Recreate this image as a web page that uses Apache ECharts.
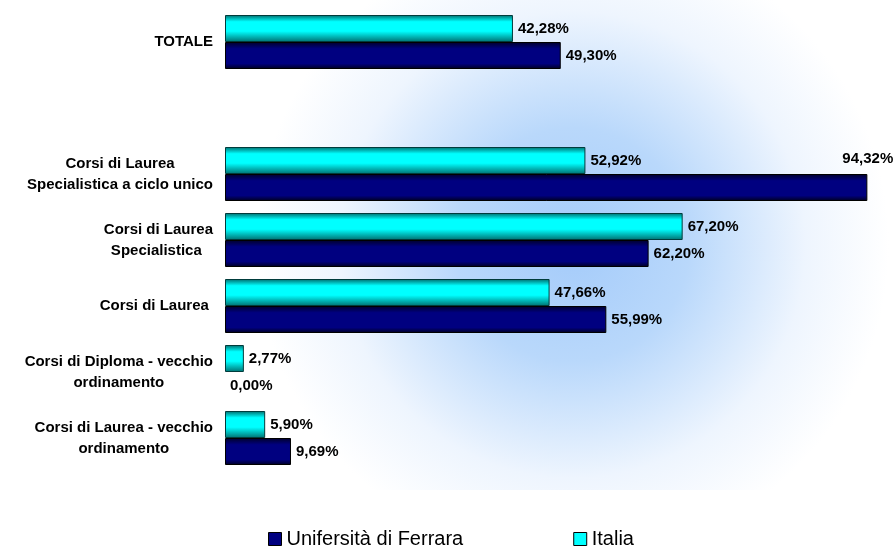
<!DOCTYPE html>
<html>
<head>
<meta charset="utf-8">
<script src="https://cdn.jsdelivr.net/npm/echarts@6/dist/echarts.min.js"></script>
<style>
  html, body { margin: 0; padding: 0; background: #fff; }
  #chart { width: 893px; height: 546px; }
</style>
</head>
<body>
<div id="chart"></div>
<script>
  // categorie (dal basso verso l'alto)
  var categories = [
    'Corsi di Laurea - vecchio\nordinamento',
    'Corsi di Diploma - vecchio\nordinamento',
    'Corsi di Laurea ',
    'Corsi di Laurea\nSpecialistica ',
    'Corsi di Laurea\nSpecialistica a ciclo unico',
    '',
    'TOTALE'
  ];
  var ferrara = [9.69, 0.00, 55.99, 62.20, 94.32, null, 49.30];
  var italia = [5.90, 2.77, 47.66, 67.20, 52.92, null, 42.28];
  var seriesNames = ['Unifersità di Ferrara', 'Italia'];

  var chart = echarts.init(document.getElementById('chart'));

  function fmt(p) {
    return p.value.toFixed(2).replace('.', ',') + '%';
  }

  var labelStyle = {
    show: true,
    position: 'right',
    distance: 5,
    formatter: fmt,
    color: '#000',
    fontFamily: 'Liberation Sans',
    fontWeight: 'bold',
    fontSize: 15
  };

  // la barra lunga (94,32%) ha l'etichetta sopra; le barre a zero senza bordo
  var ferraraData = ferrara.map(function (v) {
    if (v !== null && v > 90) {
      return { value: v, label: { offset: [-30, -29] } };
    }
    if (v === 0) {
      return { value: v, itemStyle: { borderWidth: 0 } };
    }
    return v;
  });

  var option = {
    animation: false,
    backgroundColor: '#fff',
    graphic: [{
      type: 'rect',
      silent: true,
      z: -10,
      shape: { x: 225, y: 0, width: 668, height: 490 },
      style: {
        fill: {
          type: 'radial', x: 0.52, y: 0.5, r: 0.68,
          colorStops: [
            { offset: 0, color: '#a4cbfa' },
            { offset: 0.35, color: '#b9d8fb' },
            { offset: 0.7, color: '#eef5fe' },
            { offset: 0.95, color: '#ffffff' }
          ]
        }
      }
    }],
    grid: {
      left: 225,
      top: 9,
      height: 462,
      right: 21
    },
    legend: {
      left: 263,
      top: 524,
      itemWidth: 13,
      itemHeight: 13,
      itemGap: 110,
      icon: 'rect',
      textStyle: {
        fontFamily: 'Liberation Sans',
        fontSize: 20,
        color: '#000'
      },
      data: [
        { name: seriesNames[0], itemStyle: { color: '#000080', borderColor: '#000', borderWidth: 1 } },
        { name: seriesNames[1], itemStyle: { color: '#00ffff', borderColor: '#000', borderWidth: 1 } }
      ]
    },
    xAxis: {
      type: 'value',
      min: 0,
      max: 95,
      show: false
    },
    yAxis: {
      type: 'category',
      data: categories,
      axisLine: { show: false },
      axisTick: { show: false },
      axisLabel: {
        margin: 12,
        formatter: function (v) {
          if (!v) return '';
          return v.split('\n').map(function (l) { return '{c|' + l + '}'; }).join('\n');
        },
        rich: {
          c: {
            align: 'center',
            fontFamily: 'Liberation Sans',
            fontWeight: 'bold',
            fontSize: 15,
            lineHeight: 21,
            color: '#000'
          }
        }
      }
    },
    series: [
      {
        name: seriesNames[1],
        type: 'bar',
        barWidth: 27,
        barGap: '0%',
        data: italia,
        label: labelStyle,
        itemStyle: {
          borderColor: '#003c3c',
          borderWidth: 1,
          color: {
            type: 'linear', x: 0, y: 0, x2: 0, y2: 1,
            colorStops: [
              { offset: 0, color: '#006a6a' },
              { offset: 0.25, color: '#00ffff' },
              { offset: 0.6, color: '#00ffff' },
              { offset: 1, color: '#007070' }
            ]
          }
        }
      },
      {
        name: seriesNames[0],
        type: 'bar',
        barWidth: 27,
        barGap: '0%',
        data: ferraraData,
        label: labelStyle,
        itemStyle: {
          borderColor: '#000',
          borderWidth: 1,
          color: {
            type: 'linear', x: 0, y: 0, x2: 0, y2: 1,
            colorStops: [
              { offset: 0, color: '#000028' },
              { offset: 0.25, color: '#000080' },
              { offset: 0.8, color: '#000080' },
              { offset: 1, color: '#00001e' }
            ]
          }
        }
      }
    ]
  };

  chart.setOption(option);
</script>
</body>
</html>
